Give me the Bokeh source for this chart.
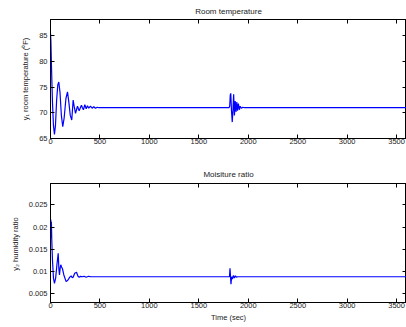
from bokeh.plotting import figure
from bokeh.models import LinearAxis, FixedTicker, Range1d, Spacer
from bokeh.layouts import column, row
from bokeh.embed import file_html
from bokeh.resources import INLINE

# ---- data ----
time_ticks = [0, 500, 1000, 1500, 2000, 2500, 3000, 3500]
temp_ticks = [65, 70, 75, 80, 85]
hum_ticks = [0.005, 0.01, 0.015, 0.02, 0.025]
hum_tick_labels = ["0.005", "0.01", "0.015", "0.02", "0.025"]

temp_t = [0, 4, 10, 20, 30, 40, 50, 62, 74, 84, 96, 110, 124, 138, 156, 172, 186, 200,
          215, 222, 229, 240, 253, 263, 273, 282, 290, 302, 313, 323, 333, 347, 361, 374,
          387, 404, 421, 438, 455, 472, 488, 510, 540,
          1805, 1812, 1818, 1823, 1830, 1838, 1845, 1852, 1860, 1868, 1876, 1884, 1892,
          1900, 1910, 1918, 1930, 1945, 1960, 3600]
temp_y = [85.5, 84, 79, 72, 67.5, 65.8, 67.5, 72.5, 75.5, 76.0, 74, 69.5, 67.3, 69, 72.8, 74.1, 72, 69.5,
          68.6, 70.5, 72.5, 71.2, 69.9, 70.6, 71.3, 70.8, 70.4, 71.0, 71.5, 71.0, 70.6, 71.6, 70.8, 71.4,
          70.9, 71.3, 70.9, 71.2, 70.9, 71.1, 71.0, 71.0, 71.0,
          71.0, 71.3, 73.5, 73.8, 70.5, 68.2, 70.5, 73.6, 69.5, 72.3, 70.2, 72.1, 70.4,
          71.8, 70.6, 71.3, 70.9, 71.1, 71.0, 71.0]

hum_t = [0, 3, 6, 9, 13, 20, 30, 40, 52, 65, 78, 85, 91, 98, 104, 112, 121, 135, 158, 175,
         195, 209, 220, 229, 245, 263, 278, 290, 305, 320, 340, 360, 385, 410, 440, 470, 500,
         1810, 1815, 1820, 1825, 1832, 1840, 1850, 1860, 1870, 1880, 1895, 3600]
hum_y = [0.0175, 0.0217, 0.019, 0.0212, 0.017, 0.0125, 0.0085, 0.0073, 0.0085, 0.0115, 0.0141,
         0.0105, 0.0092, 0.0108, 0.0115, 0.011, 0.0106, 0.0092, 0.0077, 0.008,
         0.0087, 0.009, 0.0086, 0.0087, 0.0096, 0.0098, 0.0089, 0.0087, 0.0089, 0.0088, 0.0089,
         0.0087, 0.0089, 0.0088, 0.0088, 0.0088, 0.0088,
         0.0088, 0.0107, 0.0090, 0.0071, 0.0088, 0.0083, 0.0091, 0.0085, 0.009, 0.0087, 0.0088, 0.0088]

FONT = "Liberation Sans"


def style_axis(ax, ticks, labels=True):
    ax.ticker = FixedTicker(ticks=ticks)
    ax.minor_tick_line_color = None
    ax.major_tick_in = 4
    ax.major_tick_out = 0
    ax.axis_line_color = "black"
    ax.major_tick_line_color = "black"
    ax.major_label_text_font = FONT
    ax.major_label_text_font_size = "7.5px"
    ax.major_label_text_color = "#222222"
    ax.major_label_standoff = 3 if labels else 0
    if not labels:
        ax.major_label_overrides = {tk: "" for tk in ticks}
        ax.major_label_text_font_size = "1px"
    ax.axis_label_text_font = FONT
    ax.axis_label_text_font_size = "7.5px"
    ax.axis_label_text_font_style = "normal"
    ax.axis_label_text_color = "#222222"


def make_fig(title, t, y, yr, yticks, ylabel, xlabel, left, top, bottom, tstand):
    p = figure(frame_width=356, frame_height=119, output_backend="svg",
               toolbar_location=None, x_range=Range1d(0, 3600), y_range=Range1d(*yr),
               min_border_left=left, min_border_right=0, min_border_top=top,
               min_border_bottom=bottom, title=title)
    p.title.text_font = FONT
    p.title.text_font_size = "8px"
    p.title.text_font_style = "normal"
    p.title.text_color = "#222222"
    p.title.align = "center"
    p.title.standoff = tstand
    p.xgrid.visible = False
    p.ygrid.visible = False
    p.outline_line_color = "black"
    p.line(t, y, line_color="#0000ff", line_width=1.2)
    style_axis(p.xaxis[0], time_ticks)
    p.xaxis[0].major_label_standoff = 0
    style_axis(p.yaxis[0], yticks)
    p.yaxis[0].axis_label = ylabel
    if xlabel:
        p.xaxis[0].axis_label = xlabel
        p.xaxis[0].axis_label_standoff = 2
    p.yaxis[0].axis_label_standoff = 6
    ra = LinearAxis()
    style_axis(ra, yticks, labels=False)
    p.add_layout(ra, "right")
    ta = LinearAxis()
    style_axis(ta, time_ticks, labels=False)
    p.add_layout(ta, "above")
    return p


p1 = make_fig("Room temperature", temp_t, temp_y, (65, 88.2), temp_ticks,
              "y\u2081 room temperature (\u2070F)", None, 40, 19, 24, 8)
p2 = make_fig("Moisiture ratio", hum_t, hum_y, (0.003, 0.0298), hum_ticks,
              "y\u2082  humidity ratio", "Time (sec)", 50, 20, 20, 10)
p2.yaxis[0].major_label_overrides = dict(zip(hum_ticks, hum_tick_labels))

layout = column(row(Spacer(width=10, height=10), p1, spacing=0), p2, spacing=0)
open("out.html", "w").write(file_html(layout, INLINE))
